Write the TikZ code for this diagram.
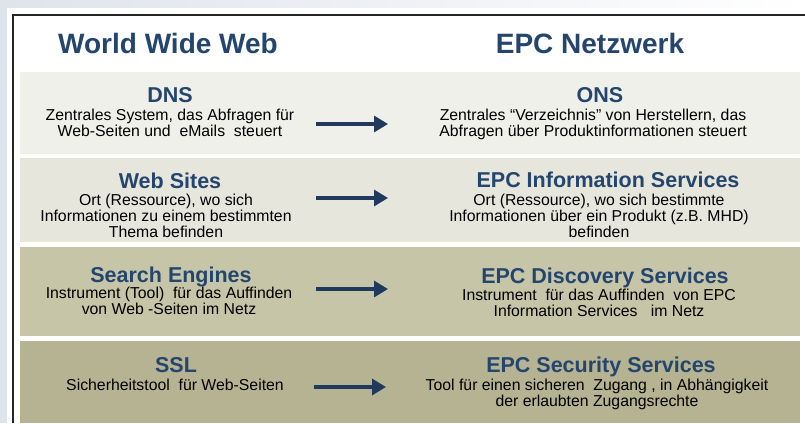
\documentclass[tikz,border=0pt]{standalone}
\usepackage{fontspec}
\setmainfont{Liberation Sans}
\usepackage{xcolor}
\usetikzlibrary{arrows.meta}

\definecolor{epcblue}{HTML}{24466E}
\definecolor{arrowblue}{HTML}{1F3A5C}
\definecolor{rowA}{HTML}{F0F0EA}
\definecolor{rowB}{HTML}{E7E6DD}
\definecolor{rowC}{HTML}{C6C5A8}
\definecolor{rowD}{HTML}{B5B392}
\definecolor{outergray}{HTML}{DFE3EC}
\definecolor{framegray}{HTML}{262626}

\tikzset{
  coltitle/.style={font=\fontsize{28}{30}\selectfont\bfseries, text=epcblue, anchor=base, inner sep=0pt},
  rowhead/.style={font=\fontsize{21.5}{24}\selectfont\bfseries, text=epcblue, anchor=base, inner sep=0pt},
  rowtext/.style={font=\fontsize{15.8}{16}\selectfont, align=center, anchor=north, inner sep=0pt},
  maparrow/.style={line width=3.2pt, arrowblue, -{Triangle[length=14pt,width=16pt]}}
}

\begin{document}
\begin{tikzpicture}[x=1pt,y=-1pt]
    \useasboundingbox (0,0) rectangle (805,423);

    % Background and frame
    \fill[outergray] (0,0) rectangle (805,423);
    \shade[left color=outergray, right color=white] (0,0) rectangle (805,8);
    \fill[white] (7,8) rectangle (805,423);
    \draw[line width=1.3pt, framegray] (13,423) -- (13,15) -- (805,15);

    % Row bands
    \fill[rowA] (20,72) rectangle (800,154);
    \fill[rowB] (20,158) rectangle (800,242);
    \fill[rowC] (20,247) rectangle (800,336);
    \fill[rowD] (20,341) rectangle (800,423);

    % Column titles
    \node[coltitle] (www) at (168,53) {World Wide Web};
    \node[coltitle] (epc) at (590,53) {EPC Netzwerk};

    % Row 1: DNS -> ONS
    \node[rowhead] (dns) at (170,102) {DNS};
    \node[rowtext] (dnstext) at (170,108.5) {Zentrales System, das Abfragen für\\Web-Seiten und\ \ eMails\ \ steuert};
    \node[rowhead] (ons) at (600,102) {ONS};
    \node[rowtext] (onstext) at (593,108.5) {Zentrales “Verzeichnis” von Herstellern, das\\Abfragen über Produktinformationen steuert};
    \coordinate (dnsfrom) at (316,124);
    \coordinate (dnsto) at (388,124);
    \draw[maparrow] (dnsfrom) -- (dnsto);

    % Row 2: Web Sites -> EPC Information Services
    \node[rowhead] (sites) at (170,188) {Web Sites};
    \node[rowtext] (sitestext) at (166,193.5) {Ort (Ressource), wo sich\\Informationen zu einem bestimmten\\Thema befinden};
    \node[rowhead] (epcis) at (608,187) {EPC Information Services};
    \node[rowtext] (epcistext) at (599,193.5) {Ort (Ressource), wo sich bestimmte\\Informationen über ein Produkt (z.B. MHD)\\befinden};
    \coordinate (sitesfrom) at (316,198);
    \coordinate (sitesto) at (388,198);
    \draw[maparrow] (sitesfrom) -- (sitesto);

    % Row 3: Search Engines -> EPC Discovery Services
    \node[rowhead] (search) at (171,282) {Search Engines};
    \node[rowtext] (searchtext) at (169,286.5) {Instrument (Tool)\ \ für das Auffinden\\von Web -Seiten im Netz};
    \node[rowhead] (epcds) at (605,283) {EPC Discovery Services};
    \node[rowtext] (epcdstext) at (599,288.5) {Instrument\ \ für das Auffinden\ \ von EPC\\Information Services\ \ \ im Netz};
    \coordinate (searchfrom) at (316,289);
    \coordinate (searchto) at (388,289);
    \draw[maparrow] (searchfrom) -- (searchto);

    % Row 4: SSL -> EPC Security Services
    \node[rowhead] (ssl) at (176,372) {SSL};
    \node[rowtext] (ssltext) at (175,378.5) {Sicherheitstool\ \ für Web-Seiten};
    \node[rowhead] (epcss) at (601,372) {EPC Security Services};
    \node[rowtext] (epcsstext) at (597,378.5) {Tool für einen sicheren\ \ Zugang , in Abhängigkeit\\der erlaubten Zugangsrechte};
    \coordinate (sslfrom) at (314,387);
    \coordinate (sslto) at (386,387);
    \draw[maparrow] (sslfrom) -- (sslto);
\end{tikzpicture}
\end{document}
